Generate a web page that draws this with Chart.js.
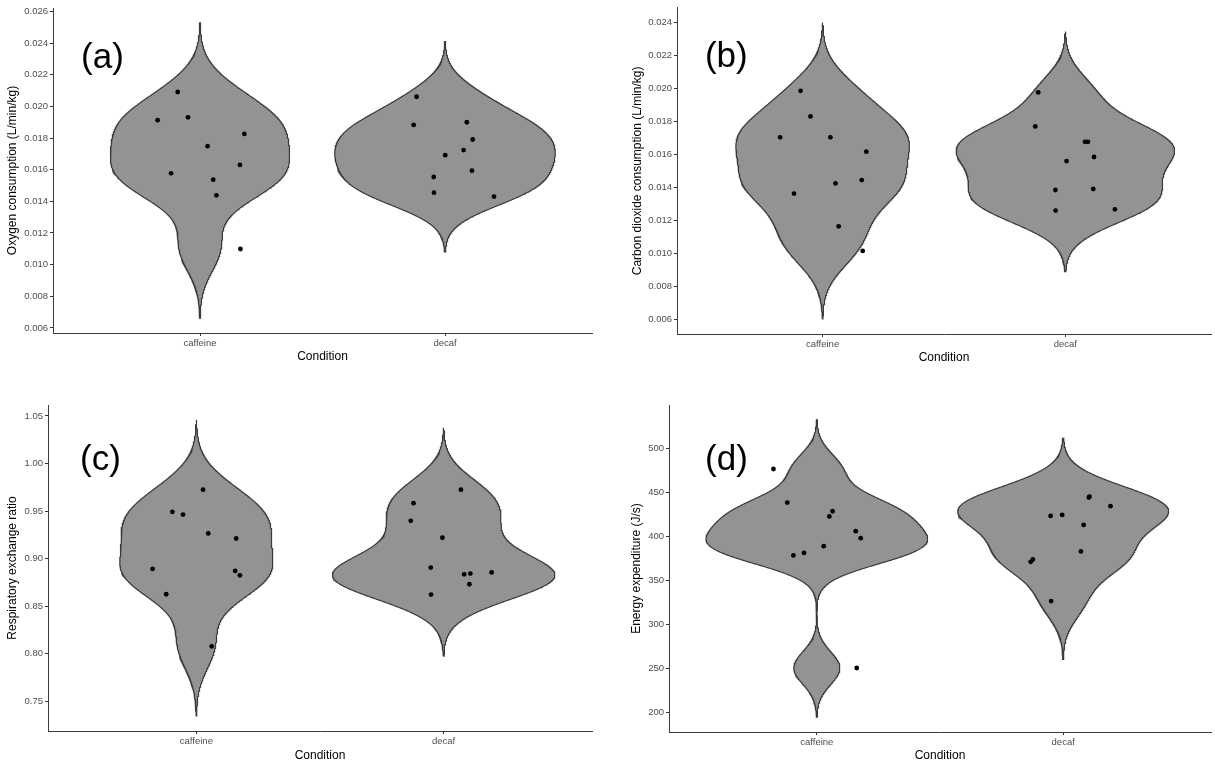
<!DOCTYPE html>
<html>
<head>
<meta charset="utf-8">
<title>Violin plots – caffeine vs decaf</title>
<script src="https://cdn.jsdelivr.net/npm/chart.js@4.4.0/dist/chart.umd.min.js"></script>
<style>
  body { margin: 0; background: #fff; width: 1215px; height: 766px; position: relative; overflow: hidden; }
  canvas { position: absolute; }
</style>
</head>
<body>
<canvas id="chartA" width="600" height="370" style="left:0;top:0"></canvas>
<canvas id="chartB" width="615" height="370" style="left:600px;top:0"></canvas>
<canvas id="chartC" width="600" height="386" style="left:0;top:380px"></canvas>
<canvas id="chartD" width="615" height="386" style="left:600px;top:380px"></canvas>
<script>
// categories on the x axis
const categories = ['caffeine', 'decaf'];

// (a) oxygen consumption, L/min/kg
const o2Caffeine = [0.01913, 0.02091, 0.01931, 0.01749, 0.01826, 0.01630, 0.01577, 0.01537, 0.01438, 0.01099];
const o2CaffeineJitter = [0.827, 0.909, 0.951, 1.031, 1.181, 1.163, 0.882, 1.054, 1.067, 1.165];
const o2Decaf = [0.02061, 0.01883, 0.01900, 0.01791, 0.01724, 0.01692, 0.01594, 0.01554, 0.01455, 0.01430];
const o2DecafJitter = [1.884, 1.872, 2.089, 2.113, 2.076, 2.001, 2.110, 1.954, 1.955, 2.200];

// (b) carbon dioxide, L/min/kg
const co2Caffeine = [0.01983, 0.01828, 0.01701, 0.01701, 0.01614, 0.01422, 0.01442, 0.01360, 0.01162, 0.01013];
const co2CaffeineJitter = [0.909, 0.950, 0.825, 1.032, 1.180, 1.053, 1.161, 0.882, 1.066, 1.165];
const co2Decaf = [0.01973, 0.01767, 0.01674, 0.01674, 0.01582, 0.01557, 0.01388, 0.01382, 0.01257, 0.01265];
const co2DecafJitter = [1.888, 1.876, 2.081, 2.093, 2.118, 2.005, 2.115, 1.959, 1.960, 2.204];

// (c) respiratory exchange ratio
const rerCaffeine = [0.9725, 0.9492, 0.9464, 0.9265, 0.9212, 0.8892, 0.8871, 0.8825, 0.8626, 0.8079];
const rerCaffeineJitter = [1.027, 0.903, 0.946, 1.048, 1.161, 0.823, 1.157, 1.176, 0.878, 1.062];
const rerDecaf = [0.9725, 0.9583, 0.9398, 0.9220, 0.8906, 0.8836, 0.8843, 0.8856, 0.8731, 0.8623];
const rerDecafJitter = [2.070, 1.878, 1.867, 1.995, 1.948, 2.083, 2.108, 2.194, 2.104, 1.949];

// (d) energy expenditure, J/s
const eeCaffeine = [476.8, 438.7, 428.8, 422.8, 406.1, 398.2, 389.1, 381.5, 378.6, 250.7];
const eeCaffeineJitter = [0.824, 0.880, 1.064, 1.051, 1.158, 1.178, 1.028, 0.948, 0.905, 1.162];
const eeDecaf = [445.5, 444.4, 434.5, 423.5, 424.6, 413.3, 383.1, 374.0, 371.3, 326.7];
const eeDecafJitter = [2.107, 2.104, 2.192, 1.949, 1.996, 2.083, 2.072, 1.877, 1.868, 1.951];

// y tick labels
const tickLabelsA = ['0.006', '0.008', '0.010', '0.012', '0.014', '0.016', '0.018', '0.020', '0.022', '0.024', '0.026'];
const tickLabelsB = ['0.006', '0.008', '0.010', '0.012', '0.014', '0.016', '0.018', '0.020', '0.022', '0.024'];
const tickLabelsC = ['0.75', '0.80', '0.85', '0.90', '0.95', '1.00', '1.05'];
const tickLabelsD = ['200', '250', '300', '350', '400', '450', '500'];

Chart.defaults.font.family = '"Liberation Sans", Arial, sans-serif';

// R's bw.nrd0 and a gaussian kernel density, as geom_violin does it
function quantile(sorted, p) {
  const h = (sorted.length - 1) * p;
  const lo = Math.floor(h);
  const next = lo + 1 < sorted.length ? sorted[lo + 1] : sorted[lo];
  return sorted[lo] + (h - lo) * (next - sorted[lo]);
}

function bwNrd0(values) {
  const n = values.length;
  const mean = values.reduce((a, b) => a + b, 0) / n;
  const sd = Math.sqrt(values.reduce((a, b) => a + (b - mean) * (b - mean), 0) / (n - 1));
  const s = values.slice().sort((a, b) => a - b);
  const iqr = quantile(s, 0.75) - quantile(s, 0.25);
  return 0.9 * Math.min(sd, iqr / 1.34) * Math.pow(n, -0.2);
}

function density(values) {
  const bw = bwNrd0(values);
  const lo = Math.min(...values) - 3 * bw;
  const hi = Math.max(...values) + 3 * bw;
  const ys = [], ds = [];
  for (let k = 0; k < 512; k++) {
    const y = lo + (hi - lo) * k / 511;
    let d = 0;
    values.forEach(v => { const z = (y - v) / bw; d += Math.exp(-0.5 * z * z); });
    ys.push(y);
    ds.push(d / (values.length * bw * Math.sqrt(2 * Math.PI)));
  }
  return { ys, ds, lo, hi };
}

function violinOutline(dens, centre, dmax) {
  const right = dens.ys.map((y, k) => ({ x: centre + 0.45 * dens.ds[k] / dmax, y }));
  const left = dens.ys.map((y, k) => ({ x: centre - 0.45 * dens.ds[k] / dmax, y })).reverse();
  return right.concat(left, [right[0]]);
}

// draws the (a)/(b)/... tag at a data position
const panelTag = {
  id: 'panelTag',
  afterDatasetsDraw(chart, args, opts) {
    const { ctx, scales: { x, y } } = chart;
    ctx.save();
    ctx.font = '35px "Liberation Sans", Arial, sans-serif';
    ctx.fillStyle = '#000';
    ctx.textAlign = 'center';
    ctx.textBaseline = 'alphabetic';
    ctx.fillText(opts.text, x.getPixelForValue(opts.at[0]), y.getPixelForValue(opts.at[1]));
    ctx.restore();
  }
};

function makePanel(p) {
  const dens = p.groups.map(g => density(g[0]));
  const dmax = Math.max(...dens.map(d => Math.max(...d.ds)));
  const lo = Math.min(...dens.map(d => d.lo));
  const hi = Math.max(...dens.map(d => d.hi));
  const pad = (hi - lo) * 0.05;

  const points = [];
  p.groups.forEach(g => g[0].forEach((v, i) => points.push({ x: g[1][i], y: v })));

  const datasets = [{
    data: points,
    pointRadius: 2.4,
    pointBackgroundColor: '#000',
    pointBorderWidth: 0,
    order: 0
  }];
  dens.forEach((d, gi) => datasets.push({
    data: violinOutline(d, gi + 1, dmax),
    showLine: true,
    pointRadius: 0,
    fill: 'shape',
    backgroundColor: '#939393',
    borderColor: '#3a3a3a',
    borderWidth: 1.2,
    tension: 0,
    order: 1
  }));

  const tickFont = { size: 9.5 };
  const titleFont = { size: 12 };

  new Chart(document.getElementById(p.id), {
    type: 'scatter',
    data: { datasets },
    plugins: [panelTag],
    options: {
      responsive: false,
      animation: false,
      layout: { padding: { left: 0, top: p.top, right: p.right, bottom: 0 } },
      plugins: {
        legend: { display: false },
        tooltip: { enabled: false },
        panelTag: { text: p.tag, at: p.tagAt }
      },
      scales: {
        x: {
          type: 'linear',
          min: 0.4,
          max: 2.6,
          afterBuildTicks: s => { s.ticks = categories.map((c, i) => ({ value: i + 1 })); },
          afterFit: s => { s.height = p.xHeight; },
          ticks: {
            callback: (v, i) => categories[i],
            color: '#4d4d4d',
            font: tickFont,
            padding: 2,
            autoSkip: false,
            maxRotation: 0
          },
          grid: { drawOnChartArea: false, tickLength: 3, color: '#333' },
          border: { color: '#3c3c3c', width: 1 },
          title: { display: true, text: 'Condition', color: '#000', font: titleFont, padding: { top: 0, bottom: p.xTitlePad } }
        },
        y: {
          min: lo - pad,
          max: hi + pad,
          afterBuildTicks: s => { s.ticks = p.tickLabels.map(t => ({ value: Number(t) })); },
          afterFit: s => { s.width = p.yWidth; },
          ticks: {
            callback: (v, i) => p.tickLabels[i],
            color: '#4d4d4d',
            font: tickFont,
            padding: 2,
            autoSkip: false
          },
          grid: { drawOnChartArea: false, tickLength: 3, color: '#333' },
          border: { color: '#3c3c3c', width: 1 },
          title: { display: true, text: p.yTitle, color: '#000', font: titleFont, padding: { top: p.yTitlePad, bottom: 0 } }
        }
      }
    }
  });
}

makePanel({
  id: 'chartA', yTitle: 'Oxygen consumption (L/min/kg)', tickLabels: tickLabelsA,
  groups: [[o2Caffeine, o2CaffeineJitter], [o2Decaf, o2DecafJitter]],
  tag: '(a)', tagAt: [0.602, 0.02243],
  top: 8, right: 8, yWidth: 53, xHeight: 37, yTitlePad: 5.8, xTitlePad: 5.8
});

makePanel({
  id: 'chartB', yTitle: 'Carbon dioxide consumption (L/min/kg)', tickLabels: tickLabelsB,
  groups: [[co2Caffeine, co2CaffeineJitter], [co2Decaf, co2DecafJitter]],
  tag: '(b)', tagAt: [0.603, 0.02127],
  top: 7, right: 0, yWidth: 77, xHeight: 36, yTitlePad: 30.5, xTitlePad: 5.5
});

makePanel({
  id: 'chartC', yTitle: 'Respiratory exchange ratio', tickLabels: tickLabelsC,
  groups: [[rerCaffeine, rerCaffeineJitter], [rerDecaf, rerDecafJitter]],
  tag: '(c)', tagAt: [0.612, 0.9937],
  top: 25, right: 8, yWidth: 48, xHeight: 35, yTitlePad: 5.8, xTitlePad: 3.1
});

makePanel({
  id: 'chartD', yTitle: 'Energy expenditure (J/s)', tickLabels: tickLabelsD,
  groups: [[eeCaffeine, eeCaffeineJitter], [eeDecaf, eeDecafJitter]],
  tag: '(d)', tagAt: [0.633, 475.9],
  top: 25, right: 0, yWidth: 69, xHeight: 34, yTitlePad: 29.5, xTitlePad: 3.1
});
</script>
</body>
</html>
